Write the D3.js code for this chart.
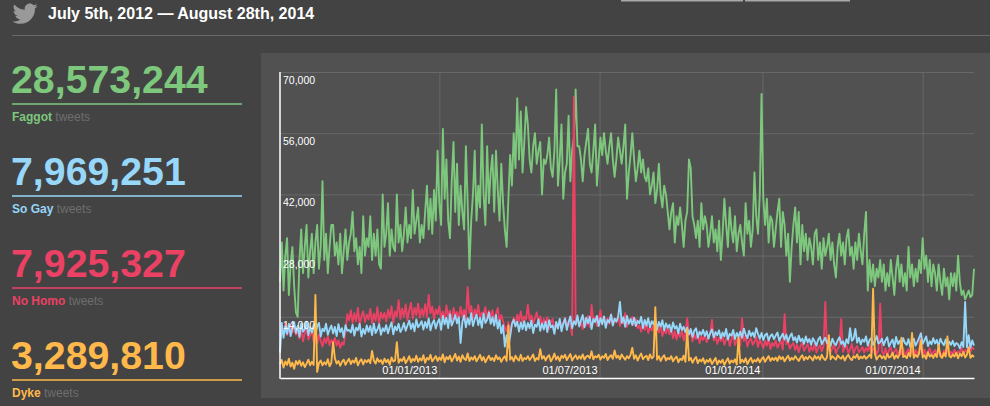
<!DOCTYPE html>
<html>
<head>
<meta charset="utf-8">
<script src="https://cdn.jsdelivr.net/npm/d3@7"></script>
<style>
  html, body { margin: 0; padding: 0; background: #434343; }
  svg { display: block; font-family: "Liberation Sans", Arial, Helvetica, sans-serif; }
</style>
</head>
<body>
<svg id="chart" width="990" height="406"></svg>
<script>
// ---------- data ----------
const titleText = "July 5th, 2012 \u2014 August 28th, 2014";
const terms = ["Faggot", "So Gay", "No Homo", "Dyke"];
const totals = [28573244, 7969251, 7925327, 3289810];
const termColors = ["#7dc87d", "#96d7fa", "#eb4164", "#ffb94b"];

const startDay = "2012-07-05";
const endDay = "2014-08-28";
const stepDays = 2;               // one reading every second day
const xTickDays = ["2013-01-01", "2013-07-01", "2014-01-01", "2014-07-01"];
const yTicks = [14000, 28000, 42000, 56000, 70000];

// daily tweets, in thousands (read every 2nd day)
const faggotK = [
  22,31,20,28,32,19,26,30,21,15,
  14,27,34,24,30,35,23,29,33,24,
  31,35,25,30,45,27,33,24,30,35,
  35,28,31,26,33,24,29,34,27,31,
  33,38,29,32,26,30,24,37,28,32,
  30,37,27,33,28,34,26,25,42,30,
  33,40,28,34,30,29,42,31,35,29,
  33,39,31,35,32,43,33,36,39,31,
  35,32,38,44,34,41,33,43,36,52,
  40,35,57,41,50,36,32,45,54,38,
  49,35,44,38,34,53,40,25,36,42,
  52,36,44,39,58,42,35,53,40,47,
  51,38,52,43,36,49,40,34,30,41,
  51,44,56,48,64,50,61,47,54,62,
  58,50,47,53,56,49,52,54,42,50,
  49,51,55,48,46,52,66,44,50,58,
  41,47,49,60,45,52,55,66,53,53,
  50,45,51,54,57,49,47,52,58,44,
  50,55,51,56,52,49,53,56,50,46,
  50,55,52,49,53,58,41,47,51,56,
  50,45,48,52,47,50,46,45,48,42,
  44,47,40,43,49,42,39,44,42,38,
  34,38,40,31,37,35,39,35,30,36,
  38,50,48,37,35,32,36,30,40,34,
  37,35,30,33,37,31,34,29,36,27,
  33,41,35,30,39,34,31,37,29,33,
  35,31,28,40,33,36,30,34,47,37,
  33,42,65,41,35,41,31,37,36,30,
  34,38,41,30,38,35,28,33,22,30,
  35,39,31,38,26,35,29,33,27,32,
  30,26,33,34,27,31,25,32,28,30,
  33,27,31,26,23,30,33,28,31,26,
  32,34,28,30,25,31,27,33,29,26,
  33,38,20,27,22,26,21,25,23,27,
  22,26,20,24,21,27,23,19,25,28,
  22,26,21,24,20,30,23,26,21,25,
  22,27,24,32,25,28,22,27,21,26,
  24,20,26,22,19,25,21,23,18,24,
  21,24,20,28,22,19,20,18,19,20,
  18.5,19,25
];
const noHomoK = [
  9.5,11.8,10.2,12.4,9.8,11.0,12.0,10.4,11.5,9.9,
  10.8,9.0,11.6,8.4,10.2,11.4,8.8,9.7,10.9,8.3,
  9.4,7.8,9.9,8.5,7.2,9.1,8.0,9.6,7.5,8.7,
  7.9,9.2,7.4,8.6,6.9,8.1,7.6,10.8,14.6,13.2,
  15.5,12.6,14.8,13.0,16.0,12.2,14.1,15.3,12.8,14.5,
  13.4,15.8,12.5,14.7,13.1,16.2,12.4,15.0,13.6,14.9,
  12.9,15.6,13.8,16.4,12.6,15.2,14.1,17.8,13.5,15.9,
  14.0,16.8,13.2,15.5,17.2,13.6,16.1,14.4,17.0,13.8,
  15.8,14.2,16.9,13.9,19.0,14.8,16.3,13.5,15.7,14.6,
  16.4,13.8,15.2,12.9,16.6,14.1,15.4,12.7,16.0,14.3,
  15.1,13.2,16.3,14.0,15.6,13.4,20.8,14.9,16.5,13.6,
  15.7,14.2,16.7,13.5,15.0,14.6,16.2,13.3,15.4,14.0,
  15.5,13.1,14.7,16.0,12.6,14.4,13.0,11.5,10.6,12.8,
  10.2,12.4,13.8,12.1,14.5,13.0,15.2,12.7,14.1,13.4,
  16.7,13.2,14.3,12.5,13.7,15.0,12.8,14.1,11.8,13.5,
  12.4,13.9,11.2,12.9,13.5,10.8,12.6,11.5,13.2,12.0,
  12.5,13.8,11.6,13.0,12.2,9.8,64.3,12.4,13.6,11.8,
  12.9,11.2,13.5,12.0,14.2,11.6,16.7,12.8,13.9,11.9,
  13.4,15.5,12.6,14.0,11.8,13.7,12.4,14.6,12.1,13.3,
  12.8,14.2,11.9,13.6,12.5,14.8,11.7,13.2,12.9,14.0,
  12.2,13.5,11.4,12.0,10.6,12.4,11.0,12.8,10.3,11.6,
  10.9,12.1,9.8,11.3,10.4,12.0,9.6,11.1,10.2,11.7,
  10.0,11.2,9.1,10.7,8.8,10.5,9.4,11.0,8.6,10.1,
  13.7,9.8,10.6,8.4,9.9,8.9,10.3,8.0,9.5,8.7,
  9.8,8.2,9.4,10.1,13.3,8.6,9.6,7.8,9.2,8.5,
  9.4,7.6,8.9,9.7,7.3,8.8,9.9,7.5,8.6,9.3,
  7.4,13.7,8.5,9.6,7.2,8.4,9.1,7.6,8.3,9.4,
  7.1,8.7,7.9,6.8,8.5,7.4,8.9,6.6,8.0,7.3,
  8.6,6.9,7.8,8.4,6.5,14.6,7.7,8.3,6.7,7.5,
  8.0,6.4,7.6,5.9,7.3,8.1,6.2,7.0,7.8,6.0,
  7.2,6.3,7.9,5.8,6.9,7.5,6.1,7.3,17.4,6.5,
  7.0,5.9,6.8,7.6,5.6,6.7,7.2,13.5,6.0,6.9,
  7.4,5.7,6.6,7.8,5.5,6.8,7.3,5.9,6.4,7.1,
  5.8,6.9,6.2,7.5,5.6,6.6,7.0,5.4,6.3,17.0,
  6.1,5.3,6.8,5.0,6.4,7.0,5.2,6.0,6.7,5.1,
  6.3,5.5,6.9,4.9,6.0,6.6,5.3,6.2,5.0,6.4,
  5.6,6.1,10.3,5.4,6.5,5.1,6.0,6.8,5.2,5.9,
  6.4,5.0,6.2,5.7,4.8,6.3,5.5,6.6,5.1,6.0,
  5.4,6.5,5.2,6.1,5.8,6.9,5.3,6.4,5.9,7.2,
  6.1,7.0,6.5
];
const soGayK = [
  5.8,12.6,9.2,11.8,10.1,12.4,9.6,11.5,12.8,10.3,
  11.9,9.4,12.5,10.6,11.2,12.9,9.8,11.6,10.4,12.2,
  10.0,11.8,12.6,9.5,11.3,10.7,12.4,9.9,11.1,12.0,
  10.2,11.7,9.6,12.3,10.5,11.4,9.3,12.1,10.8,11.0,
  10.4,12.2,9.7,11.5,10.9,12.4,9.5,11.2,10.1,12.0,
  10.6,11.9,9.8,12.5,10.3,11.1,12.3,9.9,11.4,10.7,
  12.1,10.2,11.6,12.7,10.0,11.8,10.9,12.4,10.5,11.3,
  12.6,10.8,12.0,13.1,11.2,12.5,10.7,13.4,11.6,12.2,
  13.0,11.1,12.8,11.5,13.6,10.9,12.4,13.2,11.3,12.7,
  13.5,11.0,14.2,12.3,13.8,11.4,14.6,12.0,13.1,14.4,
  12.5,13.9,8.0,12.8,14.3,11.6,13.7,12.2,14.8,11.9,
  13.4,14.5,12.1,13.8,11.5,14.7,12.6,13.3,15.0,12.4,
  13.9,12.0,14.4,11.3,13.2,10.2,12.1,7.2,9.8,7.0,
  9.5,12.4,13.3,11.8,12.9,10.6,12.7,11.2,13.0,10.9,
  12.6,11.4,13.1,10.3,12.2,11.7,13.4,10.8,12.5,11.1,
  12.9,10.5,13.2,11.6,12.0,10.1,12.8,11.3,13.5,10.7,
  12.4,13.6,11.0,12.7,14.1,11.4,13.0,12.2,14.3,11.8,
  13.2,14.4,11.6,13.8,12.5,14.0,11.2,13.5,12.8,14.2,
  11.9,13.7,12.3,14.1,11.5,13.3,12.7,14.5,12.0,13.6,
  12.9,14.0,17.4,12.6,13.9,11.7,14.2,12.4,13.5,12.1,
  13.8,11.9,13.1,12.5,14.0,11.4,13.3,12.0,13.7,11.6,
  13.0,12.3,13.6,11.1,12.8,11.8,13.2,10.9,12.5,11.5,
  12.2,10.6,12.7,11.3,11.9,10.2,12.4,11.0,11.7,10.5,
  11.5,10.0,11.2,9.4,10.8,11.4,9.2,10.6,9.9,11.0,
  9.6,10.7,9.0,10.3,11.1,9.3,10.5,9.8,10.9,9.1,
  10.4,9.5,11.2,8.8,10.1,9.7,11.0,8.9,10.3,9.4,
  10.6,9.2,11.3,10.0,9.1,10.8,9.6,10.4,9.3,11.4,
  10.1,9.0,10.3,8.7,9.8,10.2,8.6,9.6,10.0,8.9,
  9.7,10.4,8.5,9.4,10.1,8.8,9.9,8.3,9.5,10.2,
  8.6,9.3,8.1,9.7,8.4,9.0,7.8,9.5,8.2,8.9,
  7.6,9.1,8.3,7.4,8.8,9.4,7.7,8.5,9.2,7.9,
  8.7,7.3,9.0,8.0,7.5,8.6,9.3,7.8,8.4,7.2,
  8.9,7.9,11.4,8.5,9.0,11.2,8.1,9.2,7.7,8.8,
  8.3,9.5,7.4,8.7,9.1,7.6,8.4,9.6,7.9,8.2,
  9.0,7.5,8.6,9.3,7.2,8.1,8.8,7.0,9.4,7.8,
  8.5,7.3,9.1,8.0,7.6,8.9,7.1,8.3,9.0,7.4,
  8.2,9.2,10.2,7.8,8.6,9.5,7.3,8.4,7.7,9.1,
  7.9,8.7,7.2,9.0,8.1,7.5,8.8,7.0,8.3,7.6,
  8.5,7.3,8.0,7.7,6.8,8.2,7.1,17.4,7.0,9.8,
  6.9,8.6,7.4
];
const dykeK = [
  3.2,4.1,2.4,3.8,3.0,4.4,2.6,3.5,2.1,3.9,
  3.1,4.0,2.8,3.6,2.5,3.3,4.2,2.9,3.7,3.0,
  19.0,1.4,3.4,4.0,2.9,3.6,3.1,4.3,2.7,3.5,
  8.2,4.5,3.3,3.9,2.8,3.7,4.2,3.0,3.8,4.4,
  3.2,4.0,3.5,4.6,2.9,3.8,4.3,3.1,4.1,3.6,
  4.2,3.4,6.2,4.0,3.3,4.5,3.7,4.1,3.2,4.4,
  3.6,4.2,3.0,4.7,3.8,4.0,8.2,3.5,4.3,3.9,
  4.8,3.4,4.1,5.0,3.6,4.4,3.9,5.1,3.7,4.5,
  4.0,5.2,3.5,4.6,4.2,5.3,3.8,4.4,5.0,3.9,
  4.7,4.1,5.4,3.6,4.8,4.3,5.1,3.8,4.6,5.5,
  4.0,4.9,3.7,5.2,4.4,4.1,5.6,3.9,4.7,4.2,
  5.0,3.8,4.5,5.3,4.0,4.8,3.6,4.4,5.1,4.1,
  4.6,3.9,5.2,4.3,4.7,3.7,4.5,5.0,3.9,12.0,
  4.2,4.8,3.8,5.1,4.4,4.0,5.3,3.9,4.6,4.3,
  5.0,4.1,4.7,5.4,3.9,4.6,4.2,6.6,4.4,5.0,
  4.0,4.8,5.2,3.8,4.5,5.6,4.2,4.9,3.9,5.1,
  4.6,5.3,4.1,4.8,5.5,4.0,4.7,5.2,4.3,5.0,
  4.4,5.4,4.2,4.9,5.1,4.5,6.1,4.3,5.0,4.7,
  5.3,4.2,5.0,4.6,5.5,4.1,4.8,5.2,4.4,6.3,
  4.6,5.1,4.3,5.4,4.7,4.2,5.0,4.5,5.3,6.9,
  4.4,5.2,4.0,4.9,5.6,4.3,4.8,5.1,4.1,5.4,
  4.5,4.9,16.2,4.2,5.0,3.9,4.7,5.2,4.0,4.6,
  4.3,5.0,3.8,4.5,4.9,3.6,4.4,4.1,5.1,3.7,
  11.2,4.0,4.6,3.5,4.3,4.8,3.4,4.2,3.8,4.5,
  3.3,4.1,3.7,4.4,3.2,3.9,4.6,3.1,4.0,3.5,
  4.2,3.0,3.8,4.5,3.3,4.0,3.6,4.3,3.1,9.2,
  3.4,4.2,3.6,4.5,3.2,4.0,4.6,3.5,4.1,3.8,
  4.5,3.6,4.3,4.8,3.7,4.4,5.0,3.9,4.6,4.1,
  4.7,3.9,5.0,4.3,4.8,3.8,4.5,5.1,4.0,4.6,
  4.2,5.0,4.4,3.9,4.7,5.2,4.1,4.8,4.3,5.0,
  4.6,4.0,5.1,4.4,4.9,4.2,5.3,4.5,4.1,4.8,
  9.8,4.3,5.0,4.6,4.2,5.2,4.7,4.4,5.1,4.0,
  4.8,5.3,4.5,4.1,5.0,4.6,5.4,4.3,4.9,4.5,
  5.1,4.4,4.8,5.3,4.6,20.4,5.6,4.2,4.9,5.2,
  4.5,5.0,4.3,5.5,4.7,4.9,5.8,4.4,5.2,4.6,
  5.4,9.2,4.8,5.1,4.5,5.7,4.9,10.3,4.6,5.3,
  4.8,5.6,8.6,4.7,5.2,4.4,5.9,4.9,5.3,4.6,
  5.5,4.8,7.6,5.0,4.6,5.7,4.9,9.5,5.1,4.7,
  5.4,4.9,5.8,4.5,5.6,5.0,6.0,4.7,5.3,7.0,
  4.6,5.2,4.8
];

// ---------- drawing ----------
const svg = d3.select("#chart");
const parseDay = d3.timeParse("%Y-%m-%d");
const day0 = parseDay(startDay), day1 = parseDay(endDay);

// top tabs (partially visible)
svg.append("rect").attr("x", 621).attr("y", 0).attr("width", 122).attr("height", 1.5).attr("fill", "#a8a8a8");
svg.append("rect").attr("x", 745).attr("y", 0).attr("width", 105).attr("height", 1.5).attr("fill", "#a8a8a8");

// header
svg.append("path")
  .attr("d", "M23.643 4.937c-.835.37-1.732.62-2.675.733.962-.576 1.7-1.49 2.048-2.578-.9.534-1.897.922-2.958 1.13-.85-.904-2.06-1.470-3.4-1.470-2.572 0-4.658 2.086-4.658 4.660 0 .364.042.718.12 1.060-3.873-.195-7.304-2.050-9.602-4.868-.4.690-.63 1.490-.63 2.342 0 1.616.823 3.043 2.072 3.878-.764-.025-1.482-.234-2.110-.583v.060c0 2.257 1.605 4.140 3.737 4.568-.392.106-.803.162-1.227.162-.3 0-.593-.028-.877-.082.593 1.850 2.313 3.198 4.352 3.234-1.595 1.250-3.604 1.995-5.786 1.995-.376 0-.747-.022-1.112-.065 2.062 1.323 4.510 2.093 7.140 2.093 8.570 0 13.255-7.098 13.255-13.254 0-.200-.005-.402-.014-.602.910-.658 1.700-1.477 2.323-2.410z")
  .attr("transform", "translate(11.5,0.5) scale(1.1)")
  .attr("fill", "#999");
svg.append("text").attr("x", 48).attr("y", 19)
  .attr("fill", "#fff").attr("font-size", 16).attr("font-weight", "bold")
  .text(titleText);
svg.append("line").attr("x1", 12).attr("x2", 990).attr("y1", 35.5).attr("y2", 35.5)
  .attr("stroke", "#686868").attr("stroke-width", 1);

// left summary blocks
const fmt = d3.format(",");
terms.forEach((t, k) => {
  const g = svg.append("g").attr("transform", `translate(0,${k * 92})`);
  g.append("text").attr("x", 11).attr("y", 92.5)
    .attr("fill", termColors[k]).attr("font-size", 39.3).attr("font-weight", "bold")
    .text(fmt(totals[k]));
  g.append("line").attr("x1", 12).attr("x2", 242).attr("y1", 104).attr("y2", 104)
    .attr("stroke", termColors[k]).attr("stroke-width", 1.3);
  const lab = g.append("text").attr("x", 12).attr("y", 120.5).attr("font-size", 12);
  lab.append("tspan").attr("fill", termColors[k]).attr("font-weight", "bold").text(t);
  lab.append("tspan").attr("fill", "#6e6e6e").text(" tweets");
});

// chart panel
svg.append("rect").attr("x", 261).attr("y", 53).attr("width", 729).attr("height", 345).attr("fill", "#515151");

const x = d3.scaleTime().domain([day0, day1]).range([280, 974]);
const y = d3.scaleLinear().domain([0, 70000]).range([378, 72]);
const xTickValues = xTickDays.map(parseDay);

// grid (from the axes' tick lines)
const yGrid = svg.append("g").attr("transform", "translate(280,0)")
  .call(d3.axisRight(y).tickValues(yTicks).tickSize(694).tickFormat(""));
yGrid.select(".domain").remove();
yGrid.selectAll(".tick line").attr("stroke", "#686868").attr("stroke-width", 1);

const xGrid = svg.append("g").attr("transform", "translate(0,378)")
  .call(d3.axisBottom(x).tickValues(xTickValues).tickSize(-306).tickSizeOuter(0).tickFormat(""));
xGrid.select(".domain").remove();
xGrid.selectAll(".tick line").attr("stroke", "#686868").attr("stroke-width", 1);

// series
const seriesList = [
  { vals: faggotK, color: termColors[0] },
  { vals: noHomoK, color: termColors[2] },
  { vals: soGayK, color: termColors[1] },
  { vals: dykeK, color: termColors[3] }
];
const line = d3.line()
  .x((d, i) => x(d3.timeDay.offset(day0, i * stepDays)))
  .y(d => y(d * 1000));
seriesList.forEach(s => {
  svg.append("path").datum(s.vals)
    .attr("d", line)
    .attr("fill", "none")
    .attr("stroke", s.color)
    .attr("stroke-width", 1.9)
    .attr("stroke-linejoin", "round");
});

// axis labels on top of the lines
const yLab = svg.append("g").attr("transform", "translate(280,0)")
  .call(d3.axisRight(y).tickValues(yTicks).tickSize(0).tickFormat(fmt));
yLab.select(".domain").remove();
yLab.selectAll(".tick text").attr("x", 3).attr("y", 11.5).attr("dy", null)
  .attr("fill", "#fff").attr("font-size", 10.5).attr("font-family", "Liberation Sans, Arial, sans-serif");

const xLab = svg.append("g").attr("transform", "translate(0,378)")
  .call(d3.axisBottom(x).tickValues(xTickValues).tickSize(0).tickSizeOuter(0)
    .tickFormat(d3.timeFormat("%d/%m/%Y")));
xLab.select(".domain").attr("stroke", "#fff").attr("stroke-width", 1.5);
xLab.selectAll(".tick text").attr("text-anchor", "end").attr("x", -2.5).attr("y", -4).attr("dy", null)
  .attr("fill", "#fff").attr("font-size", 11).attr("font-family", "Liberation Sans, Arial, sans-serif");

// y axis line
svg.append("line").attr("x1", 280).attr("x2", 280).attr("y1", 72).attr("y2", 378.75)
  .attr("stroke", "#fff").attr("stroke-width", 1.5);
</script>
</body>
</html>
